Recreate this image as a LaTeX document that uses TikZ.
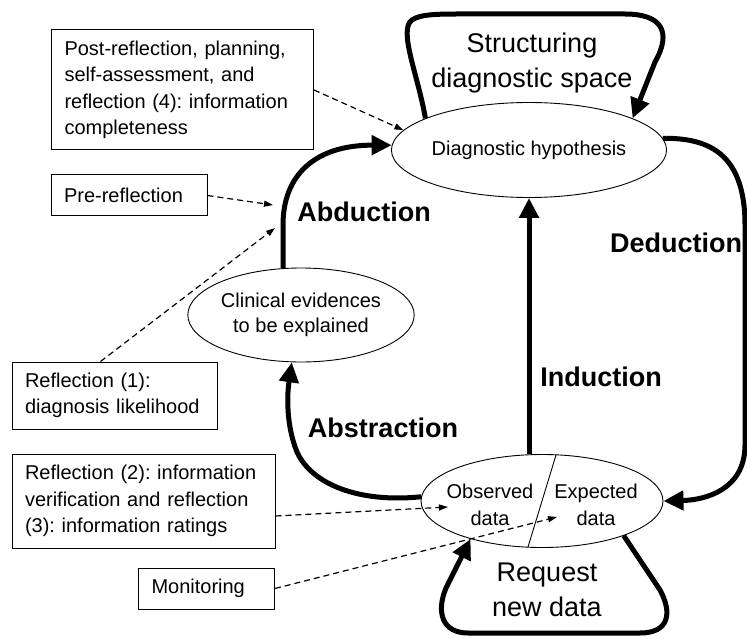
\documentclass[tikz,border=0pt]{standalone}
\usepackage{fontspec}
\setmainfont{Liberation Sans}
\usetikzlibrary{shapes.geometric,arrows.meta,calc}
\frenchspacing
\tikzset{
  txtbox/.style={draw, line width=1pt, align=left, inner xsep=13pt, inner ysep=0pt,
    font=\fontsize{20}{26.5}\selectfont},
  ell/.style={draw, ellipse, line width=0.9pt, inner sep=0pt, align=center,
    font=\fontsize{20}{25}\selectfont},
  bigarrow/.style={line width=5pt, -{Triangle[length=20pt,width=19pt]}},
  dasharrow/.style={line width=1.2pt, dash pattern=on 6pt off 4pt,
    -{Triangle[length=9pt,width=6pt]}},
  biglabel/.style={font=\fontsize{27}{30}\selectfont\bfseries},
  looplabel/.style={align=center, font=\fontsize{27}{35}\selectfont},
  halflabel/.style={align=center, font=\fontsize{20}{27}\selectfont}
}
\begin{document}
\begin{tikzpicture}[x=1pt,y=-1pt]
\useasboundingbox (0,0) rectangle (747,639);

% ellipses
\node[ell, minimum width=236pt, minimum height=95pt] (dh) at (529,150) {Diagnostic hypothesis};
\node[ell, minimum width=222pt, minimum height=94pt] (clin) at (301,315) {Clinical evidences\\to be explained};
\node[ell, minimum width=242pt, minimum height=93pt] (obs) at (542,501) {};
\coordinate (d1) at (556,455);
\coordinate (d2) at (528,547);
\draw[line width=0.9pt] (d1) -- (d2);
\node[halflabel] (obsl) at (490,505) {Observed\\data};
\node[halflabel] (expl) at (596,505) {Expected\\data};

% loop labels
\node[looplabel] (struct) at (532,63) {Structuring\\diagnostic space};
\node[looplabel] (req) at (547,590) {Request\\new data};

% reasoning labels
\node[biglabel] (abd) at (364,212) {Abduction};
\node[biglabel] (ded) at (676,243) {Deduction};
\node[biglabel] (ind) at (601,377) {Induction};
\node[biglabel] (abs) at (383,428) {Abstraction};

% text boxes
\node[txtbox, text width=236pt, minimum height=120pt] (post) at (182.5,90)
  {Post-reflection, planning,\\self-assessment, and\\reflection (4): information\\completeness};
\node[txtbox, text width=130pt, minimum height=41pt] (pre) at (129,195.5) {Pre-reflection};
\node[txtbox, text width=179pt, minimum height=67pt] (r1) at (114.5,395.5)
  {Reflection (1):\\diagnosis likelihood};
\node[txtbox, text width=237pt, minimum height=94pt] (r2) at (143.5,501)
  {Reflection (2): information\\verification and reflection\\(3): information ratings};
\node[txtbox, text width=110pt, minimum height=41pt] (mon) at (206.5,588.5) {Monitoring};

% thick arrows
\draw[bigarrow] (dh.163) .. controls (418,75) and (398,30) .. (412,20)
  .. controls (420,14) and (440,14) .. (460,14) -- (625,14)
  .. controls (662,14) and (672,32) .. (655,62) -- (dh.17);
\draw[bigarrow] (dh.5) .. controls (705,138) and (745,150) .. (745,225)
  -- (745,445) .. controls (745,490) and (705,500) .. (obs.0);
\draw[bigarrow] (dh.south |- obs.north) -- (dh.south);
\draw[bigarrow] (clin.111) -- (283,225) .. controls (283,175) and (315,145) .. (dh.178);
\draw[bigarrow] (obs.178) .. controls (360,503) and (312,485) .. (297,452)
  .. controls (286,425) and (287,395) .. (clin.259);
\draw[bigarrow] (obs.337) -- (660,590) .. controls (672,612) and (670,633) .. (640,633)
  -- (468,633) .. controls (442,633) and (436,612) .. (446,588) -- (obs.208);

% dashed annotation arrows
\coordinate (tpre) at (273,205);
\coordinate (tr1) at (275,228);
\coordinate (tr2) at (448,507);
\coordinate (tmon) at (557,517);
\draw[dasharrow] (post.east) -- (dh.171);
\draw[dasharrow] (pre.east) -- (tpre);
\draw[dasharrow] ($(r1.north)+(-14,0)$) -- (tr1);
\draw[dasharrow] ([yshift=-15pt]r2.east) -- (tr2);
\draw[dasharrow] (mon.east) -- (tmon);
\end{tikzpicture}
\end{document}
